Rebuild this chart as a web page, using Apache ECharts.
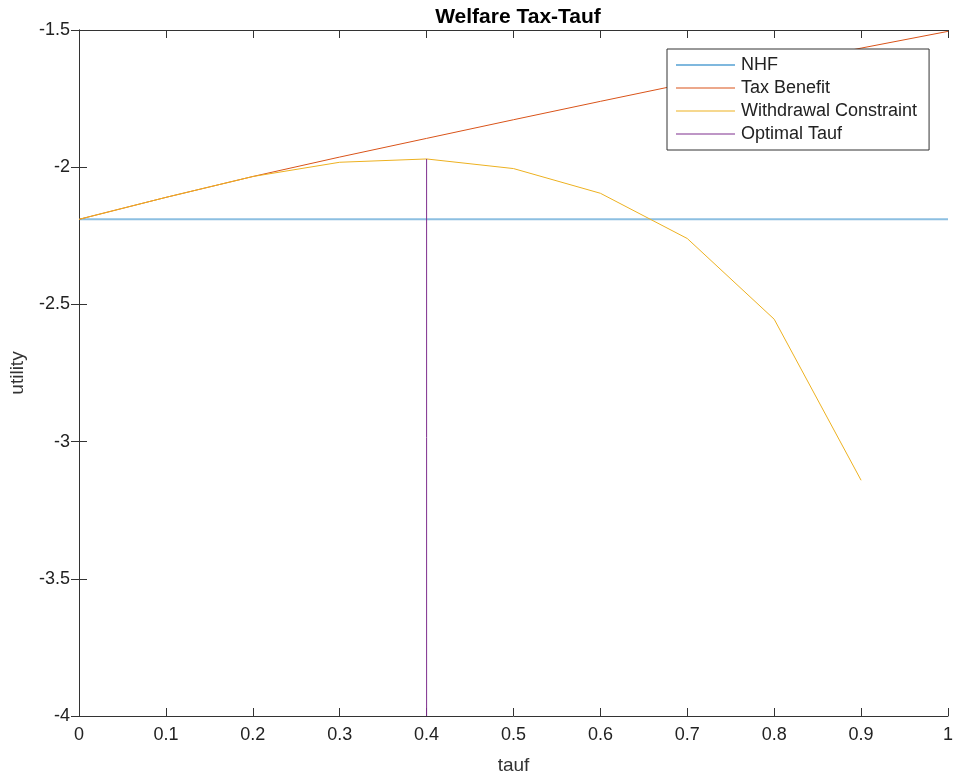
<!DOCTYPE html>
<html>
<head>
<meta charset="utf-8">
<style>
html, body { margin: 0; padding: 0; background: #fff; }
#chart { width: 953px; height: 775px; }
</style>
<script src="https://cdn.jsdelivr.net/npm/echarts@6/dist/echarts.min.js"></script>
</head>
<body>
<div id="chart"></div>
<script>
// values
const tauf = [0, 0.1, 0.2, 0.3, 0.4, 0.5, 0.6, 0.7, 0.8, 0.9, 1.0]
const nhf = [-2.19, -2.19, -2.19, -2.19, -2.19, -2.19, -2.19, -2.19, -2.19, -2.19, -2.19]
const taxBenefit = [-2.19, -2.11, -2.034, -1.963, -1.895, -1.827, -1.76, -1.694, -1.629, -1.566, -1.505]
const withdrawTauf = [0, 0.1, 0.2, 0.3, 0.4, 0.5, 0.6, 0.7, 0.8, 0.9]
const withdrawal = [-2.19, -2.11, -2.034, -1.982, -1.97, -2.005, -2.095, -2.26, -2.554, -3.141]
const optimalX = [0.4, 0.4]
const optimalY = [-4, -1.97]

const pairs = (xs, ys) => xs.map((x, i) => [x, ys[i]])
const font = 'Liberation Sans, Arial, Helvetica, sans-serif'

const myChart = echarts.init(document.getElementById('chart'))
const line = (name, xs, ys, color, extra) => Object.assign({
  name: name,
  type: 'line',
  showSymbol: false,
  symbol: 'none',
  animation: false,
  lineStyle: { color: color, width: 1 },
  itemStyle: { color: color },
  data: pairs(xs, ys)
}, extra || {})

const tickStyle = { show: true, inside: true, length: 8, lineStyle: { color: '#333' } }
const axisLine = { show: true, lineStyle: { color: '#333' } }

myChart.setOption({
  animation: false,
  title: {
    text: 'Welfare Tax-Tauf',
    left: 513,
    textAlign: 'center',
    top: 2,
    textStyle: { fontFamily: font, fontSize: 21, fontWeight: 'bold', color: '#000' }
  },
  legend: {
    orient: 'vertical',
    left: 667,
    top: 49,
    padding: [7, 12, 7, 9],
    itemGap: 5,
    itemWidth: 59,
    itemHeight: 1,
    backgroundColor: '#fff',
    borderColor: '#333',
    borderWidth: 1,
    borderRadius: 0,
    icon: 'rect',
    textStyle: { fontFamily: font, fontSize: 18, color: '#222', padding: [0, 0, 0, 1] },
    data: ['NHF', 'Tax Benefit', 'Withdrawal Constraint', 'Optimal Tauf']
  },
  grid: { left: 79, right: 5, top: 30, bottom: 59, outerBoundsMode: 'none', containLabel: false },
  xAxis: [{
    type: 'value',
    min: 0,
    max: 1,
    interval: 0.1,
    name: 'tauf',
    nameLocation: 'middle',
    nameGap: 40,
    nameTextStyle: { fontFamily: font, fontSize: 19, color: '#333' },
    axisLine: axisLine,
    axisTick: tickStyle,
    axisLabel: { fontFamily: font, fontSize: 18, color: '#222', margin: 10 },
    splitLine: { show: false }
  }, {
    type: 'value',
    position: 'top',
    min: 0,
    max: 1,
    interval: 0.1,
    axisLine: axisLine,
    axisTick: tickStyle,
    axisLabel: { show: false },
    splitLine: { show: false }
  }],
  yAxis: [{
    type: 'value',
    min: -4,
    max: -1.5,
    interval: 0.5,
    name: 'utility',
    nameLocation: 'middle',
    nameGap: 52,
    nameTextStyle: { fontFamily: font, fontSize: 19, color: '#333' },
    axisLine: axisLine,
    axisTick: tickStyle,
    axisLabel: { fontFamily: font, fontSize: 18, color: '#222', margin: 9 },
    splitLine: { show: false }
  }, {
    type: 'value',
    position: 'right',
    min: -4,
    max: -1.5,
    interval: 0.5,
    axisLine: axisLine,
    axisTick: tickStyle,
    axisLabel: { show: false },
    splitLine: { show: false }
  }],
  series: [
    line('NHF', tauf, nhf, '#0072BD', { lineStyle: { color: '#0072BD', width: 2, opacity: 0.45 } }),
    line('Tax Benefit', tauf, taxBenefit, '#D95319'),
    line('Withdrawal Constraint', withdrawTauf, withdrawal, '#EDB120'),
    line('Optimal Tauf', optimalX, optimalY, '#7E2F8E')
  ]
})
</script>
</body>
</html>
